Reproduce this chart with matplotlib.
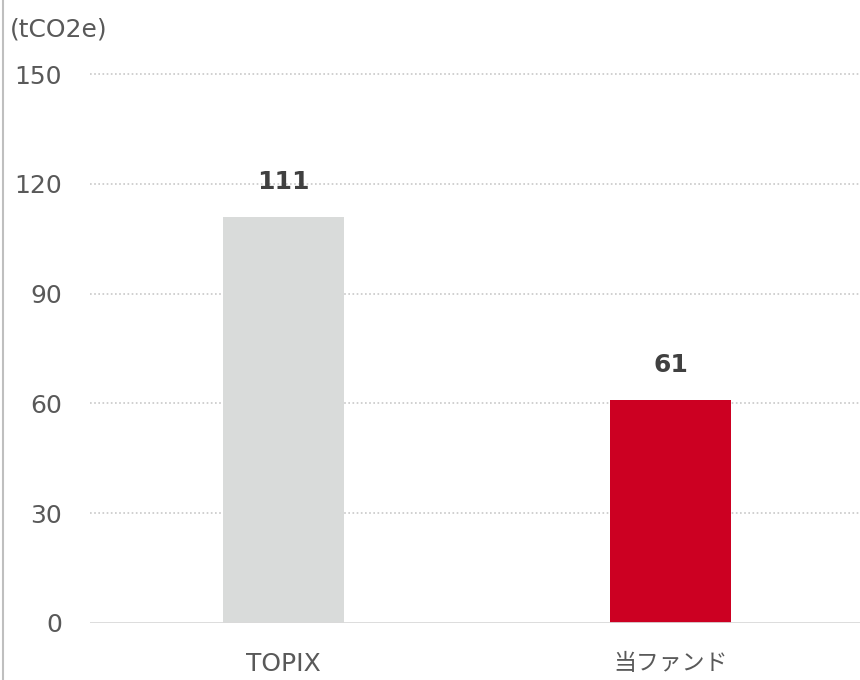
import matplotlib.pyplot as plt
from matplotlib.lines import Line2D

categories = ["TOPIX", "当ファンド"]
values = [111, 61]
colors = ["#D9DBDA", "#CC0022"]
yticks = [0, 30, 60, 90, 120, 150]
unit = "(tCO2e)"

plt.rcParams['font.family'] = ['DejaVu Sans', 'Noto Sans CJK JP']

fig = plt.figure(figsize=(8.6, 6.8), dpi=100)
W, H = 860, 680
left, right, top, bottom = 90, 864, 74, 623
ax = fig.add_axes([left / W, (H - bottom) / H, (right - left) / W, (bottom - top) / H])

x = range(len(categories))
bars = ax.bar(x, values, width=0.313, color=colors, zorder=3)
for b, v in zip(bars, values):
    ax.annotate(str(v), (b.get_x() + b.get_width() / 2, v), xytext=(0, 25),
                textcoords="offset points", ha="center", va="center",
                fontsize=18, fontweight="bold", color="#404040")

ax.set_xlim(-0.5, 1.5)
ax.set_ylim(0, 150)
ax.set_yticks(yticks)
ax.set_yticklabels([str(t) for t in yticks], fontsize=18, color="#595959")
ax.set_xticks(list(x))
ax.set_xticklabels(categories, fontsize=18, color="#595959")
jp = ax.get_xticklabels()[1]
jp.set_fontfamily(['Noto Sans CJK JP'])
jp.set_fontsize(16.5)
ax.tick_params(axis="y", length=0, pad=20)
ax.tick_params(axis="x", length=0, pad=21)

for t in yticks[1:]:
    ax.axhline(t, color="#C8C8C8", linestyle=(0, (1, 1.5)), linewidth=1.2,
               zorder=1, clip_on=False)
ax.axhline(0, color="#D9D9D9", linewidth=2, zorder=4)

for s in ax.spines.values():
    s.set_visible(False)

fig.text(10 / W, 1 - 30 / H, unit, fontsize=18, color="#595959", va="center", ha="left")
fig.add_artist(Line2D([3 / W, 3 / W], [0, 1], color="#BFBFBF", linewidth=1.5))

fig.savefig("out.png", dpi=100)
